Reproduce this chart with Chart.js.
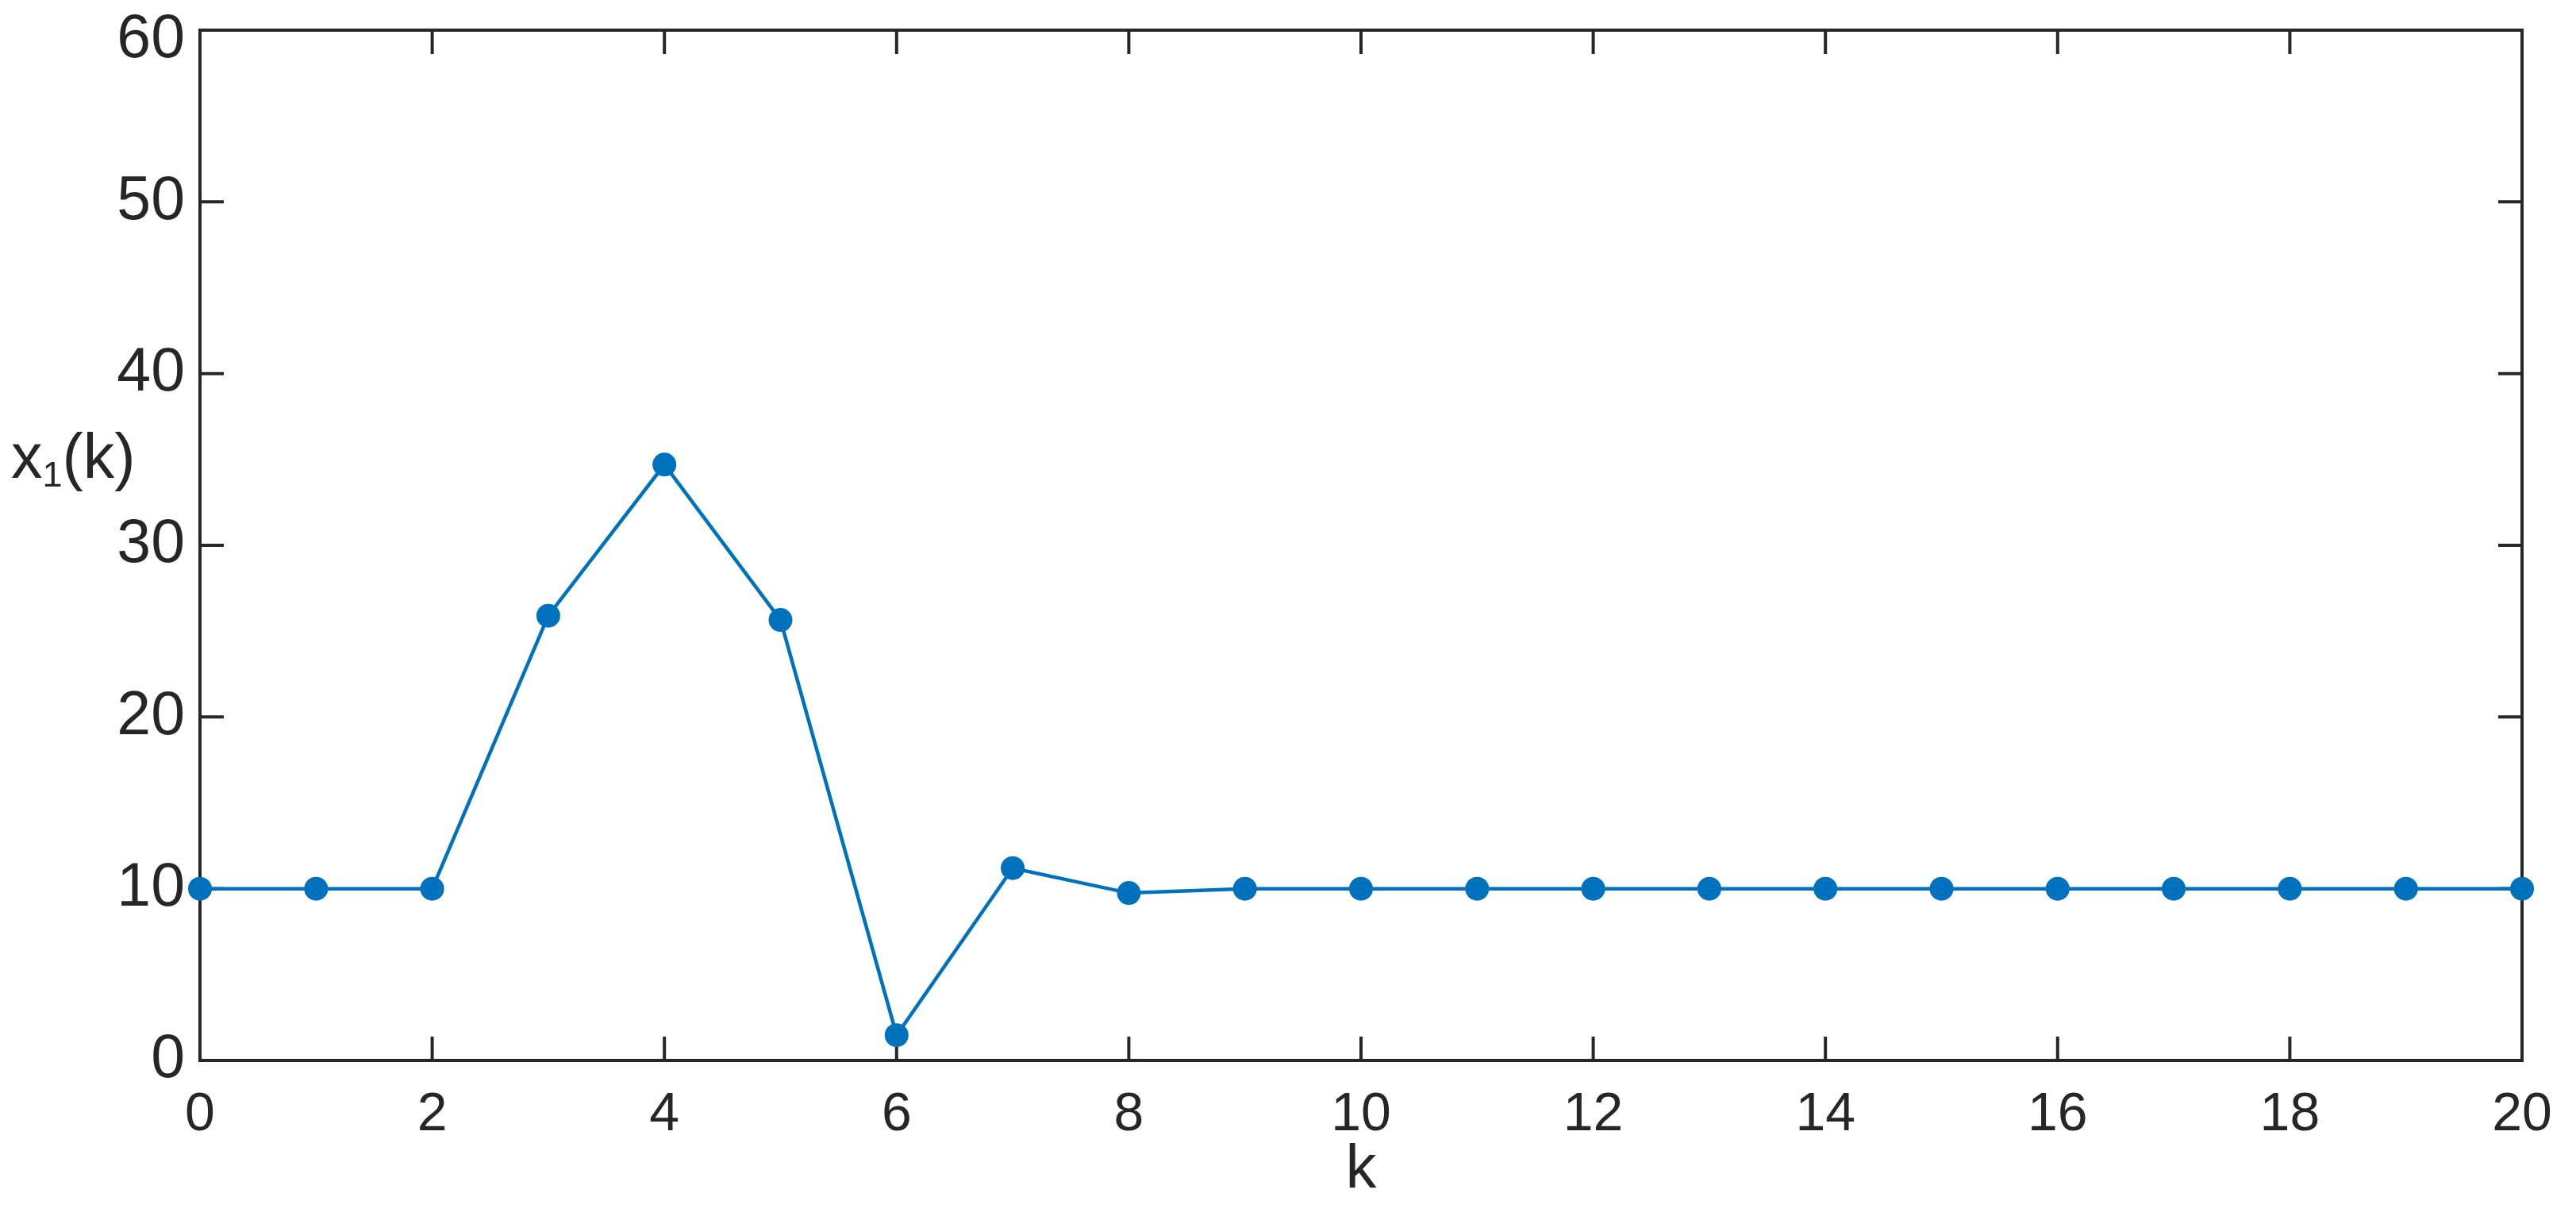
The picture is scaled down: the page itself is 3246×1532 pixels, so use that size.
<!DOCTYPE html>
<html>
<head>
<meta charset="utf-8">
<script src="https://cdn.jsdelivr.net/npm/chart.js@4"></script>
<style>
  html, body { margin: 0; padding: 0; background: #fff; }
  #chart { display: block; }
</style>
</head>
<body>
<canvas id="chart" width="3246" height="1532" style="width:3246px;height:1532px"></canvas>
<script>
// k = 0..20 and the state x1(k)
const kValues = [0, 1, 2, 3, 4, 5, 6, 7, 8, 9, 10, 11, 12, 13, 14, 15, 16, 17, 18, 19, 20];
const x1Values = [10, 10, 10, 25.9, 34.7, 25.65, 1.47, 11.2, 9.75, 10.0, 10, 10, 10, 10, 10, 10, 10, 10, 10, 10, 10];
const xTicks = [0, 2, 4, 6, 8, 10, 12, 14, 16, 18, 20];
const yTicks = [0, 10, 20, 30, 40, 50, 60];

const axisColor = '#262626';
const lineColor = '#0072BD';
const fontFamily = '"Liberation Sans", Arial, Helvetica, sans-serif';

// matlab style box with inward ticks on all four sides, plus the axis labels
const boxPlugin = {
  id: 'matlabBox',
  beforeDatasetsDraw(chart) {
    const { ctx, chartArea: a, scales } = chart;
    const tickLen = 30;
    ctx.save();
    ctx.strokeStyle = axisColor;
    ctx.lineWidth = 4;
    ctx.beginPath();
    xTicks.forEach(v => {
      const px = scales.x.getPixelForValue(v);
      ctx.moveTo(px, a.bottom); ctx.lineTo(px, a.bottom - tickLen);
      ctx.moveTo(px, a.top); ctx.lineTo(px, a.top + tickLen);
    });
    yTicks.forEach(v => {
      const py = scales.y.getPixelForValue(v);
      ctx.moveTo(a.left, py); ctx.lineTo(a.left + tickLen, py);
      ctx.moveTo(a.right, py); ctx.lineTo(a.right - tickLen, py);
    });
    ctx.stroke();
    ctx.lineJoin = 'miter';
    ctx.strokeRect(a.left, a.top, a.right - a.left, a.bottom - a.top);
    ctx.restore();
  },
  afterDraw(chart) {
    const { ctx, chartArea: a, scales } = chart;
    ctx.save();
    ctx.fillStyle = axisColor;

    // top y tick label sits a little lower in the original
    ctx.font = '77px ' + fontFamily;
    ctx.textAlign = 'right';
    ctx.textBaseline = 'middle';
    ctx.fillText('60', a.left - 19, scales.y.getPixelForValue(60) + 13);

    // x label
    ctx.font = '78px ' + fontFamily;
    ctx.textAlign = 'center';
    ctx.textBaseline = 'alphabetic';
    ctx.fillText('k', (a.left + a.right) / 2, 1497);

    // y label, horizontal: x with subscript 1, then (k)
    ctx.textAlign = 'left';
    let x = 14;
    ctx.font = '79px ' + fontFamily;
    ctx.fillText('x', x, 602);
    x += ctx.measureText('x').width;
    ctx.font = '45px ' + fontFamily;
    ctx.fillText('1', x, 613);
    x += ctx.measureText('1').width;
    ctx.font = '79px ' + fontFamily;
    ctx.fillText('(k)', x, 602);
    ctx.restore();
  }
};

const ctx = document.getElementById('chart');
new Chart(ctx, {
  type: 'line',
  data: {
    datasets: [{
      data: kValues.map((k, i) => ({ x: k, y: x1Values[i] })),
      borderColor: lineColor,
      borderWidth: 4.5,
      backgroundColor: lineColor,
      pointBackgroundColor: lineColor,
      pointBorderWidth: 0,
      pointRadius: 15,
      tension: 0,
      fill: false,
      clip: false
    }]
  },
  options: {
    responsive: false,
    animation: false,
    events: [],
    layout: { padding: { top: 38, right: 68, left: 0, bottom: 0 } },
    plugins: {
      legend: { display: false },
      tooltip: { enabled: false }
    },
    scales: {
      x: {
        type: 'linear',
        min: 0,
        max: 20,
        afterBuildTicks: s => { s.ticks = xTicks.map(v => ({ value: v })); },
        afterFit: s => { s.height = 196; s.paddingLeft = 0; s.paddingRight = 0; },
        grid: { display: false, drawTicks: false },
        border: { display: false },
        ticks: {
          color: axisColor,
          padding: 28,
          maxRotation: 0,
          autoSkip: false,
          font: { family: fontFamily, size: 68 }
        }
      },
      y: {
        min: 0,
        max: 60,
        afterBuildTicks: s => { s.ticks = yTicks.map(v => ({ value: v })); },
        afterFit: s => { s.width = 252; s.paddingTop = 0; s.paddingBottom = 0; },
        grid: { display: false, drawTicks: false },
        border: { display: false },
        ticks: {
          color: axisColor,
          padding: 19,
          autoSkip: false,
          font: { family: fontFamily, size: 77 },
          callback: v => (v === 60 ? '' : String(v))
        }
      }
    }
  },
  plugins: [boxPlugin]
});
</script>
</body>
</html>
